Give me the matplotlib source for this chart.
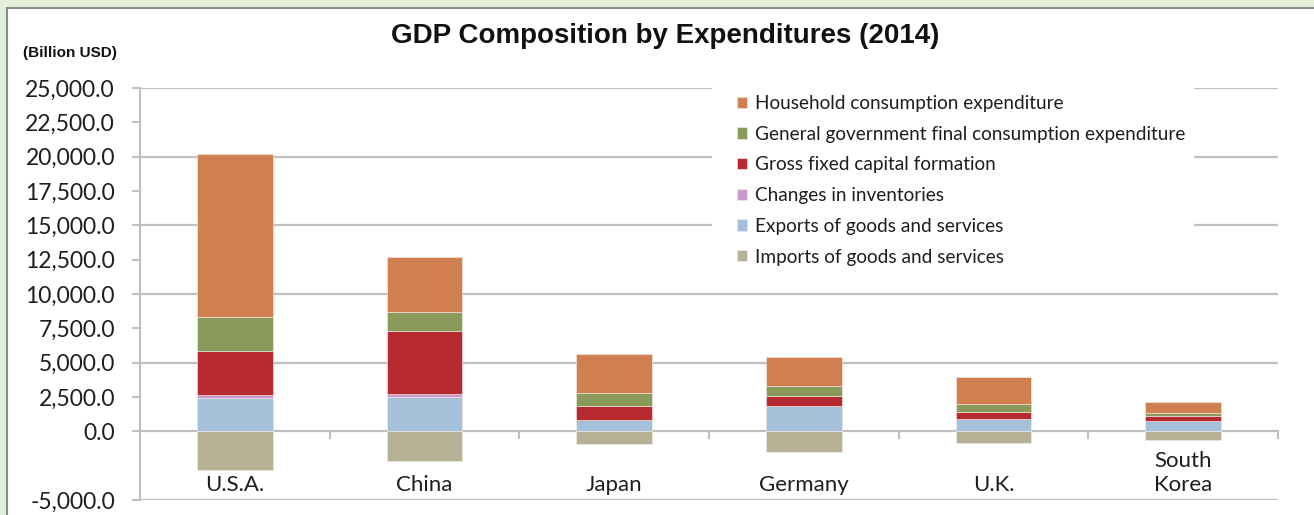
import matplotlib.pyplot as plt
import numpy as np
from matplotlib.patches import Rectangle

countries = ["U.S.A.", "China", "Japan", "Germany", "U.K.", "South\nKorea"]

# billion USD
household = [11870, 3970, 2810, 2110, 1990, 750]
government = [2540, 1430, 970, 770, 580, 245]
capital_formation = [3150, 4580, 990, 720, 510, 385]
inventories = [270, 170, 0, -40, 20, 0]
exports = [2400, 2520, 850, 1820, 870, 730]
imports = [-2830, -2180, -920, -1480, -870, -630]

series = [
    ("Imports of goods and services", imports, "#B6B195"),
    ("Exports of goods and services", exports, "#A6C0D9"),
    ("Changes in inventories", inventories, "#CC99CC"),
    ("Gross fixed capital formation", capital_formation, "#B72A2F"),
    ("General government final consumption expenditure", government, "#8A9A5A"),
    ("Household consumption expenditure", household, "#D08050"),
]

y_ticks = [-5000] + list(range(0, 25001, 2500))
grid_levels = [-5000, 0, 5000, 10000, 15000, 20000, 25000]

W, H = 1314, 515
GRID = "#BFBFC4"
TEXT = "#1E1E1E"

fig = plt.figure(figsize=(W / 100, H / 100), dpi=100, facecolor="#E3EFDB")
fig.patches.append(Rectangle((7 / W, -0.05), 1.05, 1.05 - 8 / H,
                             transform=fig.transFigure, facecolor="white",
                             edgecolor="#8C8C8C", lw=1.5, zorder=-10))

ax = fig.add_axes([140 / W, 1 - 500 / H, (1278 - 140) / W, (500 - 88) / H])
ax.patch.set_alpha(0)

x = np.arange(len(countries))
pos_base = np.zeros(len(countries))
neg_base = np.zeros(len(countries))
handles = []
for label, vals, color in series:
    vals = np.array(vals, dtype=float)
    bottom = np.where(vals >= 0, pos_base, neg_base)
    bars = ax.bar(x, vals, width=0.40, bottom=bottom, color=color,
                  edgecolor="#F3EEEA", linewidth=0.4, label=label, zorder=3)
    pos_base += np.clip(vals, 0, None)
    neg_base += np.clip(vals, None, 0)
    handles.append(bars)

for lvl in grid_levels:
    if lvl != 0:
        ax.axhline(lvl, color=GRID, lw=1.6, zorder=0)

ax.set_xlim(-0.5, len(countries) - 0.5)
ax.set_ylim(-5000, 25000)

ax.set_yticks(y_ticks)
ax.set_yticklabels([f"{v:,.1f}" for v in y_ticks], fontname="Lato",
                   fontsize=16.5, color=TEXT)
ax.tick_params(axis="y", length=6, width=1.5, color=GRID, pad=12)

ax.set_xticks(np.arange(len(countries)) + 0.5)
ax.set_xticklabels([])
ax.tick_params(axis="x", length=6, width=1.5, color=GRID, direction="out")

for side in ["top", "right"]:
    ax.spines[side].set_visible(False)
ax.spines["bottom"].set_position(("data", 0))
ax.spines["bottom"].set_color(GRID)
ax.spines["bottom"].set_linewidth(1.6)
ax.spines["bottom"].set_zorder(2)
ax.spines["left"].set_color(GRID)
ax.spines["left"].set_linewidth(1.6)

for i, name in enumerate(countries):
    ax.text(i, -4330, name, ha="center", va="baseline", fontname="Lato",
            fontsize=16, color=TEXT, linespacing=1.25)

# white backing for the legend, hides the gridlines behind it
ax.add_patch(Rectangle((712 / W, 1 - 272 / H), (1194 - 712) / W, 192 / H,
                       transform=fig.transFigure, facecolor="white",
                       edgecolor="none", zorder=1))

leg = ax.legend(handles[::-1], [s[0] for s in series][::-1],
                loc="upper left", bbox_to_anchor=(737 / W, 1 - 95 / H),
                bbox_transform=fig.transFigure, frameon=False,
                prop={"family": "Lato", "size": 13.7}, borderpad=0,
                borderaxespad=0, handlelength=0.53, handleheight=0.53,
                handletextpad=0.4, labelspacing=0.72)
for t in leg.get_texts():
    t.set_color(TEXT)

fig.text(665 / W, 1 - 43 / H, "GDP Composition by Expenditures (2014)",
         ha="center", va="baseline", fontsize=20, fontweight="bold",
         family="Liberation Sans", color="#111111")
fig.text(23 / W, 1 - 57 / H, "(Billion USD)", ha="left", va="baseline",
         fontsize=11, fontweight="bold", family="Liberation Sans",
         color="#111111")

fig.savefig("out.png", dpi=100, facecolor=fig.get_facecolor())
plt.close(fig)
